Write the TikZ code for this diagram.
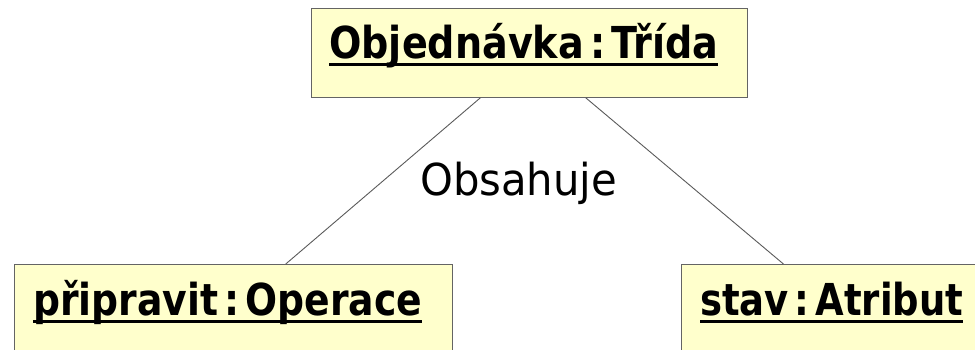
\documentclass[tikz,border=0pt]{standalone}
\usepackage{fontspec}
\usepackage{graphicx}
\setmainfont{DejaVu Sans}
\usetikzlibrary{calc}
\definecolor{boxfill}{RGB}{255,255,204}
\definecolor{boxline}{RGB}{100,100,100}
\definecolor{conline}{RGB}{90,90,90}
\newcommand\ultitle[2]{\rlap{\rule[-7.5pt]{#1}{3pt}}\resizebox{#1}{\height}{#2}}
\newcommand\gap{\hspace{0.16em}}
\tikzset{
  umlbox/.style={draw=boxline, line width=1.3pt, fill=boxfill, rectangle, inner sep=0pt, anchor=north west},
  titletext/.style={anchor=base west, inner sep=0pt, font=\fontsize{44}{50}\selectfont\bfseries},
  assoc/.style={draw=conline, line width=0.9pt},
  assoclabel/.style={anchor=base west, inner sep=0pt, font=\fontsize{44}{50}\selectfont}
}
\begin{document}
\begin{tikzpicture}[x=1pt, y=-1pt]
\useasboundingbox (0,0) rectangle (975,349);
\clip (0,0) rectangle (975,349);
\node[umlbox, minimum width=436pt, minimum height=88.5pt] (top) at (310.7,8) {};
\node[umlbox, minimum width=437.7pt, minimum height=88.5pt] (left) at (14,264) {};
\node[umlbox, minimum width=300pt, minimum height=88.5pt] (right) at (680.7,264) {};
\node[titletext] (toptext) at (329,58) {\ultitle{389pt}{Objednávka\gap:\gap Třída}};
\node[titletext] (lefttext) at (33,315) {\ultitle{389pt}{připravit\gap:\gap Operace}};
\node[titletext] (righttext) at (700,315) {\ultitle{263pt}{stav\gap:\gap Atribut}};
\coordinate (tl) at ($(top.south west)!0.388!(top.south east)$);
\coordinate (tr) at ($(top.south west)!0.629!(top.south east)$);
\coordinate (lt) at ($(left.north west)!0.619!(left.north east)$);
\coordinate (rt) at ($(right.north west)!0.341!(right.north east)$);
\draw[assoc] (tl) -- (lt);
\draw[assoc] (tr) -- (rt);
\node[assoclabel] (lab) at (420,195) {\resizebox{197pt}{\height}{Obsahuje}};
\end{tikzpicture}
\end{document}
